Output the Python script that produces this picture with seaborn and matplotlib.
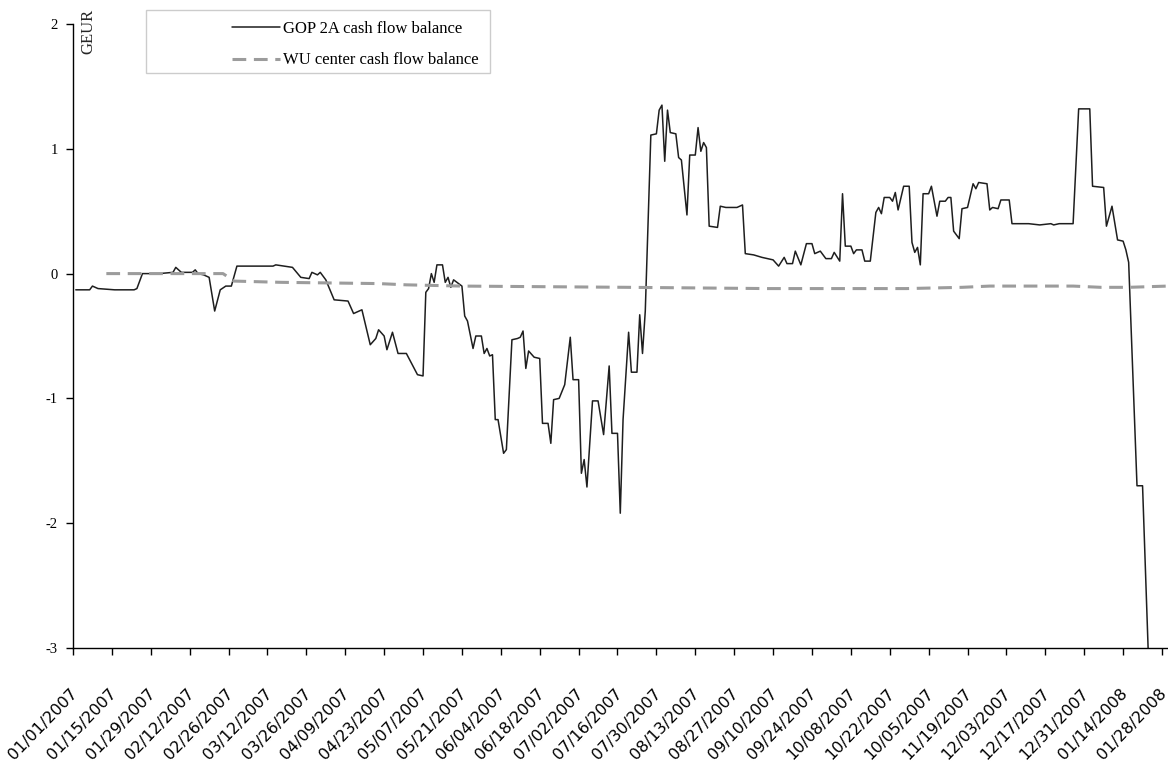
import numpy as np
import pandas as pd
import matplotlib
matplotlib.use("Agg")
import matplotlib.pyplot as plt
import matplotlib.transforms as mtransforms
from matplotlib.patches import Rectangle
import seaborn as sns

START = "2007-01-01"

gop_days = [1, 6, 7, 9, 15, 22, 23, 25, 31, 36, 37, 39, 43, 44, 45, 47, 49, 51, 53, 55,
            57, 59, 66, 72, 73, 79, 82, 85, 86, 88, 89, 91, 94, 99, 101, 104, 107, 109, 110, 112,
            113, 115, 117, 120, 124, 126, 127, 128, 129, 130, 131, 133, 134, 135, 136, 137, 140, 141, 142, 144,
            145, 147, 148, 149, 150, 151, 152, 153, 155, 156, 158, 160, 161, 162, 163, 164, 166, 168, 169, 171,
            172, 173, 175, 177, 179, 180, 182, 183, 184, 185, 187, 189, 191, 193, 194, 196, 197, 198, 200, 201,
            203, 204, 205, 206, 208, 210, 211, 212, 213, 214, 215, 217, 218, 219, 221, 222, 224, 225, 226, 227,
            228, 229, 232, 233, 235, 239, 241, 242, 245, 248, 252, 254, 256, 257, 259, 260, 262, 264, 266, 267,
            269, 271, 273, 274, 276, 277, 278, 280, 281, 282, 284, 285, 287, 289, 290, 291, 292, 294, 295, 296,
            297, 299, 301, 302, 303, 304, 305, 306, 308, 309, 311, 312, 314, 315, 316, 317, 319, 320, 322, 324,
            325, 326, 329, 330, 331, 333, 334, 337, 338, 344, 348, 352, 353, 355, 360, 362, 366, 367, 371, 372,
            374, 376, 378, 379, 380, 383, 385, 387]
gop_values = [-0.13, -0.13, -0.10, -0.12, -0.13, -0.13, -0.12, 0.00, 0.00, 0.01, 0.05, 0.01, 0.01, 0.03, 0.00, -0.01, -0.03, -0.30, -0.13, -0.10,
              -0.10, 0.06, 0.06, 0.06, 0.07, 0.05, -0.03, -0.04, 0.01, -0.01, 0.01, -0.05, -0.21, -0.22, -0.32, -0.29, -0.57, -0.52, -0.45, -0.50,
              -0.61, -0.47, -0.64, -0.64, -0.81, -0.82, -0.15, -0.12, 0.00, -0.07, 0.07, 0.07, -0.07, -0.03, -0.11, -0.05, -0.10, -0.34, -0.38, -0.60,
              -0.50, -0.50, -0.64, -0.60, -0.66, -0.65, -1.17, -1.17, -1.44, -1.41, -0.53, -0.52, -0.51, -0.46, -0.76, -0.62, -0.67, -0.68, -1.20, -1.20,
              -1.36, -1.01, -1.00, -0.89, -0.51, -0.85, -0.85, -1.60, -1.49, -1.71, -1.02, -1.02, -1.29, -0.74, -1.28, -1.28, -1.92, -1.17, -0.47, -0.79,
              -0.79, -0.33, -0.64, -0.30, 1.11, 1.12, 1.31, 1.35, 0.90, 1.31, 1.13, 1.12, 0.93, 0.91, 0.47, 0.95, 0.95, 1.17, 0.98, 1.05,
              1.01, 0.38, 0.37, 0.54, 0.53, 0.53, 0.55, 0.16, 0.15, 0.13, 0.11, 0.06, 0.13, 0.08, 0.08, 0.18, 0.07, 0.24, 0.24, 0.16,
              0.18, 0.12, 0.12, 0.17, 0.10, 0.64, 0.22, 0.22, 0.16, 0.19, 0.19, 0.10, 0.10, 0.49, 0.53, 0.48, 0.61, 0.61, 0.58, 0.65,
              0.51, 0.70, 0.70, 0.25, 0.17, 0.21, 0.07, 0.64, 0.64, 0.70, 0.46, 0.58, 0.58, 0.61, 0.61, 0.34, 0.28, 0.52, 0.53, 0.72,
              0.68, 0.73, 0.72, 0.51, 0.53, 0.52, 0.59, 0.59, 0.40, 0.40, 0.39, 0.40, 0.39, 0.40, 0.40, 1.32, 1.32, 0.70, 0.69, 0.38,
              0.54, 0.27, 0.26, 0.19, 0.09, -1.70, -1.70, -3.00]

wu_days = [12, 54, 58, 75, 110, 120, 140, 200, 250, 300, 320, 330, 360, 370, 380, 394]
wu_values = [0.00, 0.00, -0.06, -0.07, -0.08, -0.09, -0.10, -0.11, -0.12, -0.12, -0.11, -0.10, -0.10, -0.11, -0.11, -0.10]

series_labels = ["GOP 2A cash flow balance", "WU center cash flow balance"]
tick_days = list(range(0, 393, 14))
tick_labels = ["01/01/2007", "01/15/2007", "01/29/2007", "02/12/2007", "02/26/2007", "03/12/2007",
               "03/26/2007", "04/09/2007", "04/23/2007", "05/07/2007", "05/21/2007", "06/04/2007",
               "06/18/2007", "07/02/2007", "07/16/2007", "07/30/2007", "08/13/2007", "08/27/2007",
               "09/10/2007", "09/24/2007", "10/08/2007", "10/22/2007", "10/05/2007", "11/19/2007",
               "12/03/2007", "12/17/2007", "12/31/2007", "01/14/2008", "01/28/2008"]
y_ticks = [2, 1, 0, -1, -2, -3]
y_unit = "GEUR"

sns.set_theme(style="white")
plt.rcParams['font.family'] = ['Liberation Serif', 'DejaVu Serif']
plt.rcParams['axes.unicode_minus'] = False

W, H = 1168, 774
fig = plt.figure(figsize=(W / 100, H / 100), dpi=100)
ax = fig.add_axes([73 / W, 1 - 648 / H, (1167 - 73) / W, (648 - 24) / H])

start = pd.Timestamp(START)
gop = pd.DataFrame({"date": start + pd.to_timedelta(gop_days, unit="D"), "value": gop_values})
wu = pd.DataFrame({"date": start + pd.to_timedelta(wu_days, unit="D"), "value": wu_values})

sns.lineplot(data=gop, x="date", y="value", ax=ax, color="#1e1e1e", linewidth=1.1,
             estimator=None, label=series_labels[0])
sns.lineplot(data=wu, x="date", y="value", ax=ax, color="#9c9c9c", linewidth=2.2,
             estimator=None, label=series_labels[1])
wu_line = ax.get_lines()[1]
wu_line.set_dashes([4.5, 2.5])

ax.set_ylim(-3, 2)
ax.set_xlim(start, start + pd.Timedelta(days=393.8))
ax.set_yticks(y_ticks)
ax.set_yticklabels([str(v) for v in y_ticks], fontsize=10.5)
tick_dates = start + pd.to_timedelta(tick_days, unit="D")
ax.set_xticks(tick_dates)
ax.set_xticklabels(tick_labels, rotation=46, ha="right", va="center",
                   rotation_mode="anchor", fontsize=11.5, family=["DejaVu Sans"])
ax.set_xlabel("")
ax.set_ylabel("")

ax.tick_params(axis="both", which="major", bottom=True, left=True, direction="out",
               length=5, width=1, color="black", labelcolor="black")
ax.tick_params(axis="x", pad=26)
ax.tick_params(axis="y", pad=6)
offset = mtransforms.ScaledTranslation(2 / 100, 0, fig.dpi_scale_trans)
for lab in ax.get_xticklabels():
    lab.set_transform(lab.get_transform() + offset)

for side in ["top", "right"]:
    ax.spines[side].set_visible(False)
for side in ["left", "bottom"]:
    ax.spines[side].set_color("black")
    ax.spines[side].set_linewidth(1.0)

handles, labels = ax.get_legend_handles_labels()
leg = ax.legend(handles, labels, frameon=False, loc="upper left",
                bbox_to_anchor=(232 / W, 1 - 21 / H), bbox_transform=fig.transFigure,
                fontsize=12, handlelength=2.9, handletextpad=0.15, labelspacing=0.92,
                borderpad=0, borderaxespad=0)
for t in leg.get_texts():
    t.set_color("black")

fig.add_artist(Rectangle((146 / W, 1 - 73 / H), (490 - 146) / W, (73 - 10) / H,
                         transform=fig.transFigure, fill=False, edgecolor="#cccccc", linewidth=1))

fig.text(88 / W, 1 - 31 / H, y_unit, rotation=90, ha="center", va="center", fontsize=12)

fig.savefig("out.png", dpi=100, facecolor="white")
